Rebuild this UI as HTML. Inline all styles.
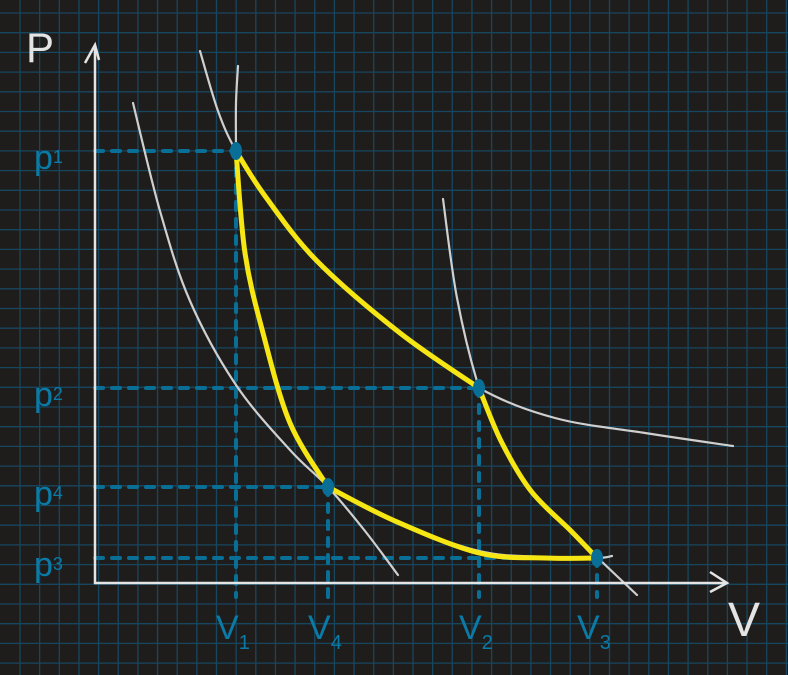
<!DOCTYPE html>
<html><head><meta charset="utf-8"><style>
html,body{margin:0;padding:0;background:#1f1d1c;}
svg{display:block;}
.lbl{font-family:"Liberation Sans",sans-serif;fill:#0a7aa6;font-size:34px;}
</style></head><body>
<svg id="c" width="788" height="675" viewBox="0 0 788 675">
<rect width="788" height="675" fill="#1f1d1c"/>
<g id="grid"></g>
<g id="guides"></g>
<g id="curves"></g>
<g id="cycle"></g>
<g id="axes">
<path d="M95 45 L95 583 L727 583" fill="none" stroke="#e4e4e4" stroke-width="2.5"/>
<path d="M85 63 L95 45 L99 60" fill="none" stroke="#e4e4e4" stroke-width="2.5"/>
<path d="M710 572 L727 583 L710 592" fill="none" stroke="#e4e4e4" stroke-width="2.5"/>
<text x="26" y="62" font-family="Liberation Sans,sans-serif" font-size="42" fill="#e4e4e4">P</text>
<text x="728" y="636" font-family="Liberation Sans,sans-serif" font-size="48" fill="#e4e4e4">V</text>
</g>
<g id="points"></g>
<g id="labels"></g>
</svg>
<script>
// data coordinates: v = volume units, p = pressure units (origin at axes corner)
const stateNames = ['1','2','3','4'];
const stateV = [141, 384, 502, 233];
const stateP = [432, 195, 25, 96];
const isoLowV = [38, 65, 95, 141, 195, 233, 270, 303];
const isoLowP = [480, 372, 282, 198, 133, 96, 52, 8];
const isoHighV = [105, 123, 141, 170, 222, 305, 384, 460, 550, 638];
const isoHighP = [532, 472, 432, 387, 322, 250, 195, 165, 150, 137];
const adLeftV = [143, 141, 141];
const adLeftP = [517, 480, 432];
const adRightV = [348, 362, 384, 406, 436, 476, 503, 542];
const adRightP = [384, 285, 195, 142, 92, 52, 25, -12];
const isoLowExtV = [233, 300, 384, 450, 502, 517];
const isoLowExtP = [96, 62, 32, 26, 25, 27];
const cyc12V = [141, 170, 222, 305, 384];
const cyc12P = [432, 387, 322, 250, 195];
const cyc23V = [384, 406, 436, 476, 502];
const cyc23P = [195, 142, 92, 52, 25];
const cyc34V = [502, 450, 384, 300, 233];
const cyc34P = [25, 25, 30, 62, 96];
const cyc41V = [233, 195, 168, 150, 141];
const cyc41P = [96, 160, 250, 330, 432];

const X = v => 95 + v;
const Y = p => 583 - p;
const NS = 'http://www.w3.org/2000/svg';
function mk(tag, parent, attrs){const e=document.createElementNS(NS,tag);for(const k in attrs)e.setAttribute(k,attrs[k]);parent.appendChild(e);return e;}
function smooth(vs, ps){
  const pts = vs.map((v,i)=>[X(v),Y(ps[i])]);
  let d = 'M'+pts[0][0]+' '+pts[0][1];
  for(let i=0;i<pts.length-1;i++){
    const p0=pts[Math.max(0,i-1)],p1=pts[i],p2=pts[i+1],p3=pts[Math.min(pts.length-1,i+2)];
    const c1=[p1[0]+(p2[0]-p0[0])/6,p1[1]+(p2[1]-p0[1])/6];
    const c2=[p2[0]-(p3[0]-p1[0])/6,p2[1]-(p3[1]-p1[1])/6];
    d+=' C'+c1[0]+' '+c1[1]+' '+c2[0]+' '+c2[1]+' '+p2[0]+' '+p2[1];
  }
  return d;
}
const grid=document.getElementById('grid');
for(let x=20;x<788;x+=19.65){const l=mk('line',grid,{x1:x,y1:0,x2:x,y2:675,stroke:'#17465f','stroke-width':1.3});

}
for(let y=13;y<675;y+=19.7){const l=mk('line',grid,{x1:0,y1:y,x2:788,y2:y,stroke:'#17465f','stroke-width':1.3});

}
const guides=document.getElementById('guides');
stateV.forEach((v,i)=>{
  const h=mk('line',guides,{x1:X(0),y1:Y(stateP[i]),x2:X(v),y2:Y(stateP[i]),stroke:'#0a6f96','stroke-width':4,'stroke-dasharray':'8 9','stroke-linecap':'round'});
  
  
  const vl=mk('line',guides,{x1:X(v),y1:Y(stateP[i]),x2:X(v),y2:Y(0)+14,stroke:'#0a6f96','stroke-width':4,'stroke-dasharray':'8 9','stroke-linecap':'round'});
  
  
});
const curves=document.getElementById('curves');
[[isoLowV,isoLowP,'isotherm-low'],[isoHighV,isoHighP,'isotherm-high'],[adLeftV,adLeftP,'adiabat-left'],[adRightV,adRightP,'adiabat-right'],[isoLowExtV,isoLowExtP,'isotherm-low-extension'],[cyc41V,cyc41P,'adiabat-left-lower']].forEach(c=>{
  const p=mk('path',curves,{d:smooth(c[0],c[1]),fill:'none',stroke:'#cfcfcf','stroke-width':2.2,'stroke-linecap':'round'});
  
  
});
const cycle=document.getElementById('cycle');
[[cyc12V,cyc12P,'cycle-1-2'],[cyc23V,cyc23P,'cycle-2-3'],[cyc34V,cyc34P,'cycle-3-4'],[cyc41V,cyc41P,'cycle-4-1']].forEach(c=>{
  const p=mk('path',cycle,{d:smooth(c[0],c[1]),fill:'none',stroke:'#f5e614','stroke-width':5,'stroke-linecap':'round'});
  
  
});
const pts=document.getElementById('points');
stateV.forEach((v,i)=>{
  const e=mk('ellipse',pts,{cx:X(v),cy:Y(stateP[i]),rx:6,ry:9,fill:'#0a6f96'});
  
  
});
const labels=document.getElementById('labels');
stateV.forEach((v,i)=>{
  const tp=mk('text',labels,{x:34,y:Y(stateP[i])+18,class:'lbl'});
  tp.textContent='p';
  const s=mk('tspan',tp,{'font-size':18,dy:-6});s.textContent=stateNames[i];
  
  
  const tv=mk('text',labels,{x:X(v)-20,y:Y(0)+56,class:'lbl'});
  tv.textContent='V';
  const s2=mk('tspan',tv,{'font-size':20,dy:10});s2.textContent=stateNames[i];
  
  
});
</script>
</body></html>
